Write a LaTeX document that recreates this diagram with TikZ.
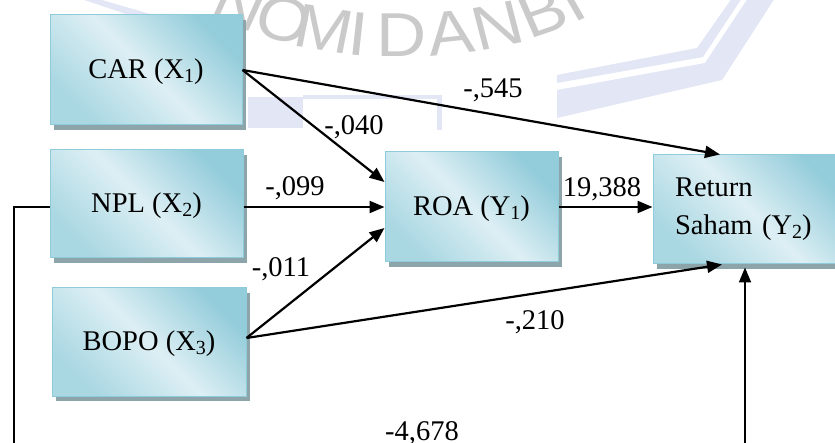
\documentclass[tikz,border=0pt]{standalone}
\usepackage{fontspec}
\setmainfont{Liberation Serif}
\newfontfamily\wmfont{Liberation Sans}
\usetikzlibrary{arrows.meta,shadows,calc}
\definecolor{boxlight}{HTML}{DDEFF4}
\definecolor{boxdark}{HTML}{93CCDA}
\definecolor{boxmid}{HTML}{A9D7E2}
\definecolor{boxedge}{HTML}{8FCCDB}
\definecolor{shadowc}{HTML}{8DA4AB}
\definecolor{wmgray}{HTML}{CACACA}
\definecolor{wmblue}{HTML}{E3E6F5}
\newcommand{\mysub}[1]{\raisebox{-4pt}{\fontsize{20}{20}\selectfont #1}}
\begin{document}
\begin{tikzpicture}[x=1pt,y=-1pt,
  varbox/.style={draw=boxedge, line width=1pt, top color=boxdark, bottom color=boxmid,
    middle color=boxlight, shading angle=-45,
    drop shadow={shadow xshift=4pt, shadow yshift=-5pt, fill=shadowc, opacity=1},
    inner sep=0pt, font=\fontsize{28.5}{38}\selectfont},
  onebox/.style={varbox, text height=22pt, text depth=4pt},
  effarrow/.style={line width=2.2pt, -{Triangle[length=15pt,width=12pt]}},
  connline/.style={line width=1.7pt},
  connarrow/.style={line width=1.9pt, -{Triangle[length=15pt,width=12pt]}},
  coef/.style={anchor=base, inner sep=0pt, font=\fontsize{28.5}{34}\selectfont},
  wm/.style={anchor=base, inner sep=0pt, text=wmgray, xscale=1.12,
    font=\wmfont\fontsize{62}{62}\selectfont}
]
\clip (0,0) rectangle (835,443);
% watermark
\fill[wmblue] (78,-2) -- (95,-2) -- (150,14) -- (135,17) -- cycle;
\fill[wmblue] (248,97) rectangle (303,128);
\fill[wmblue] (303,95) rectangle (442,99);
\fill[wmblue] (437,95) rectangle (442,130);
\fill[wmblue] (557,75) -- (697,48) -- (732,-2) -- (742,-2) -- (703,57) -- (557,83) -- cycle;
\fill[wmblue] (557,90) -- (705,63) -- (748,-2) -- (775,-2) -- (722,80) -- (557,118) -- cycle;
\node[wm, rotate=-21.8] (w1) at (231,25) {N};
\node[wm, rotate=-15.9] (w2) at (277,40) {O};
\node[wm, rotate=-10.2] (w3) at (320,50) {M};
\node[wm, rotate=-5.6] (w4) at (356,55) {I};
\node[wm] (w5) at (402,57) {D};
\node[wm, rotate=6.8] (w6) at (453,54) {A};
\node[wm, rotate=13] (w7) at (503,46) {N};
\node[wm, rotate=21] (w8) at (551,32) {B};
\node[wm, rotate=27] (w9) at (582,20) {I};
% boxes
\node[onebox, minimum width=192pt, minimum height=110pt] (car) at (146,70) {CAR (X\mysub{1})};
\node[onebox, minimum width=193pt, minimum height=108pt] (npl) at (146.5,204) {NPL (X\mysub{2})};
\node[onebox, minimum width=194pt, minimum height=108pt] (bopo) at (149,342) {BOPO (X\mysub{3})};
\node[onebox, minimum width=173pt, minimum height=110pt] (roa) at (471.5,207) {ROA (Y\mysub{1})};
\node[varbox, minimum width=194pt, minimum height=109pt, text width=150pt, align=left,
  inner xsep=22pt] (ret) at (750,209.5) {Return\\Saham (Y\mysub{2})};
% connectors
\draw[effarrow] (car.east) -- ([xshift=-30pt]ret.north);
\draw[effarrow] (car.east) -- ([yshift=25pt]roa.west);
\draw[effarrow] (npl.east |- roa.west) -- (roa.west);
\draw[effarrow] ([yshift=4pt]bopo.east) -- ([yshift=-21pt]roa.west);
\draw[effarrow] ([yshift=4pt]bopo.east) -- ([xshift=-28pt]ret.south);
\draw[effarrow] (roa.east) -- (ret.west |- roa.east);
\coordinate (lb) at (14,452);
\coordinate (rb) at (745,452);
\draw[connline] (npl.west |- roa.west) -| (lb);
\draw[connarrow] (rb) -- ($(rb |- ret.south)+(0,3)$);
% coefficients
\node[coef] (c545) at (493,98) {-,545};
\node[coef] (c040) at (354,135) {-,040};
\node[coef] (c099) at (295,196) {-,099};
\node[coef] (c19388) at (602,197) {19,388};
\node[coef] (c011) at (281,277) {-,011};
\node[coef] (c210) at (535,330) {-,210};
\node[coef] (c4678) at (422,440) {-4,678};
\end{tikzpicture}
\end{document}
